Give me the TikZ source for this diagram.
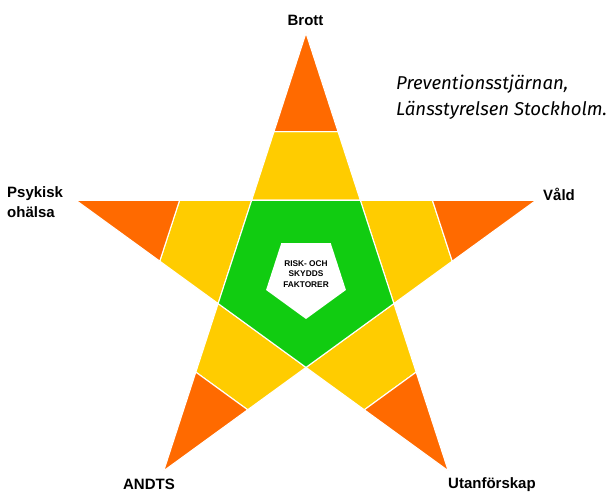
\documentclass[tikz,border=0pt]{standalone}
\usepackage{fontspec}
\setmainfont{Liberation Sans}
\newfontfamily\capfont{Fira Sans}
\usetikzlibrary{calc}
\definecolor{starorange}{RGB}{255,106,0}
\definecolor{staryellow}{RGB}{255,204,0}
\definecolor{stargreen}{RGB}{17,204,17}
\begin{document}
\begin{tikzpicture}[x=1pt,y=1pt,
  seg/.style={draw=white,line width=1.1pt,line join=miter},
  lbl/.style={font=\fontsize{15}{20}\selectfont\bfseries,inner sep=0pt}]
\useasboundingbox (0,0) rectangle (611,493);
\coordinate (C) at (306,218);
\foreach \i/\a in {0/90,1/162,2/234,3/306,4/18} {
  \coordinate (T\i) at ($(C)+(\a:242)$);
  \coordinate (L\i) at ($(C)+(\a+36:92.4)$);
  \coordinate (R\i) at ($(C)+(\a-36:92.4)$);
}
\foreach \i in {0,...,4} {
  \draw[seg,fill=staryellow] (L\i) -- (R\i) -- ($(R\i)!0.41!(T\i)$) -- ($(L\i)!0.41!(T\i)$) -- cycle;
  \draw[seg,fill=starorange] ($(L\i)!0.41!(T\i)$) -- ($(R\i)!0.41!(T\i)$) -- (T\i) -- cycle;
}
\draw[seg,fill=stargreen] (R0) -- (L0) -- (L1) -- (L2) -- (L3) -- cycle;
\coordinate (W) at (306,216);
\fill[white] ($(W)+(54:42)$) -- ($(W)+(126:42)$) -- ($(W)+(198:42)$) -- ($(W)+(270:42)$) -- ($(W)+(342:42)$) -- cycle;
\node[font=\bfseries\fontsize{8.3}{10.5}\selectfont,align=center,inner sep=0pt] (rf) at (306,219) {RISK- OCH\\SKYDDS\\FAKTORER};
\node[lbl] (brott) at (305.5,473) {Brott};
\node[lbl,anchor=west,align=left] (psyk) at (7,291) {Psykisk\\ohälsa};
\node[lbl,anchor=west] (vald) at (543,299) {Våld};
\node[lbl] (andts) at (149,9) {ANDTS};
\node[lbl,anchor=west] (utan) at (448,8) {Utanförskap};
\node[inner sep=0pt,font=\capfont\itshape\fontsize{18.6}{26}\selectfont,align=left,anchor=west] (cap) at (396,396) {Preventionsstjärnan,\\Länsstyrelsen Stockholm.};
\end{tikzpicture}
\end{document}
